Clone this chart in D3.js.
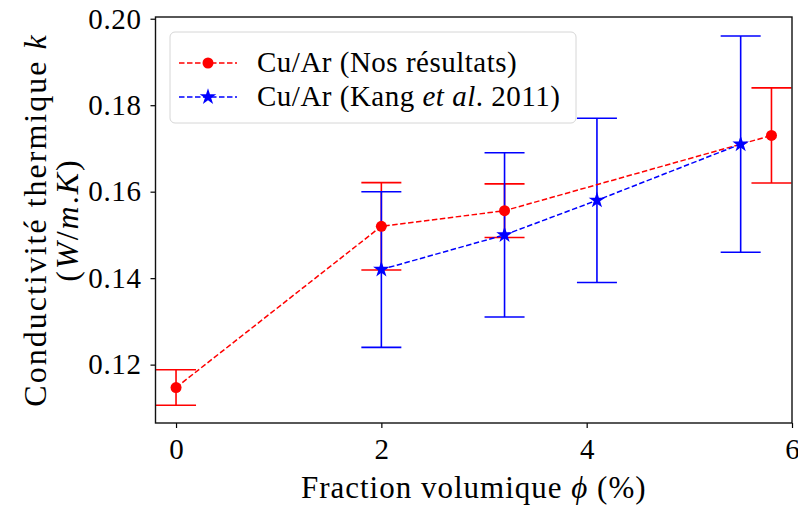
<!DOCTYPE html>
<html>
<head>
<meta charset="utf-8">
<script src="https://cdn.jsdelivr.net/npm/d3@7"></script>
<style>
  body { margin: 0; background: #fff; }
  text { font-family: "Liberation Serif", "DejaVu Serif", serif; fill: #000; }
</style>
</head>
<body>
<div id="chart"></div>
<script>
// data
var ours_x = [0, 2, 3.2, 5.8];
var ours_k = [0.1147, 0.152, 0.1556, 0.173];
var ours_err = [0.0041, 0.0101, 0.0062, 0.011];

var kang_x = [2, 3.2, 4.1, 5.5];
var kang_k = [0.142, 0.150, 0.158, 0.171];
var kang_err = [0.018, 0.019, 0.019, 0.025];

var x_ticks = [0, 2, 4, 6];
var y_ticks = [0.12, 0.14, 0.16, 0.18, 0.20];

var W = 798, H = 506;
var margin = {left: 155.5, right: 6, top: 17, bottom: 83};

var svg = d3.select("#chart").append("svg")
    .attr("width", W)
    .attr("height", H);

var xScale = d3.scaleLinear()
    .domain([-0.2, 6.0])
    .range([margin.left, W - margin.right]);

var yScale = d3.scaleLinear()
    .domain([0.1065, 0.2004])
    .range([H - margin.bottom, margin.top]);

var red = "#ff0000", blue = "#0000ff";
var capHalf = 20;

// clip so caps near the right spine get cut like matplotlib does
svg.append("clipPath").attr("id", "plotclip")
    .append("rect")
    .attr("x", margin.left).attr("y", margin.top)
    .attr("width", W - margin.right - margin.left)
    .attr("height", H - margin.bottom - margin.top);

var plot = svg.append("g").attr("clip-path", "url(#plotclip)");

function zip(xs, ks, es) {
    return xs.map((x, i) => ({x: x, k: ks[i], e: es[i]}));
}
var ours = zip(ours_x, ours_k, ours_err);
var kang = zip(kang_x, kang_k, kang_err);

// error bars (drawn under the data lines)
function errorbars(data, color) {
    var g = plot.append("g").attr("stroke", color).attr("stroke-width", 1.6);
    g.selectAll(".bar").data(data).enter().append("line")
        .attr("x1", d => xScale(d.x)).attr("x2", d => xScale(d.x))
        .attr("y1", d => yScale(d.k - d.e)).attr("y2", d => yScale(d.k + d.e));
    [-1, 1].forEach(function(s) {
        g.selectAll(".cap" + s).data(data).enter().append("line")
            .attr("x1", d => xScale(d.x) - capHalf).attr("x2", d => xScale(d.x) + capHalf)
            .attr("y1", d => yScale(d.k + s * d.e)).attr("y2", d => yScale(d.k + s * d.e));
    });
}
errorbars(ours, red);
errorbars(kang, blue);

var line = d3.line().x(d => xScale(d.x)).y(d => yScale(d.k));

plot.append("path").datum(ours)
    .attr("d", line)
    .attr("fill", "none").attr("stroke", red)
    .attr("stroke-width", 1.5).attr("stroke-dasharray", "5.5,2.5");
plot.selectAll(".dot").data(ours).enter().append("circle")
    .attr("cx", d => xScale(d.x)).attr("cy", d => yScale(d.k))
    .attr("r", 5.5).attr("fill", red);

plot.append("path").datum(kang)
    .attr("d", line)
    .attr("fill", "none").attr("stroke", blue)
    .attr("stroke-width", 1.5).attr("stroke-dasharray", "5.5,2.5");
var star = d3.symbol().type(d3.symbolStar).size(85);
plot.selectAll(".star").data(kang).enter().append("path")
    .attr("d", star)
    .attr("transform", d => "translate(" + xScale(d.x) + "," + yScale(d.k) + ")")
    .attr("fill", blue);

// axes
var xAxis = svg.append("g")
    .attr("transform", "translate(0," + (H - margin.bottom) + ")")
    .call(d3.axisBottom(xScale).tickValues(x_ticks).tickSize(5).tickPadding(10).tickFormat(d3.format("d")));
var yAxis = svg.append("g")
    .attr("transform", "translate(" + margin.left + ",0)")
    .call(d3.axisLeft(yScale).tickValues(y_ticks).tickSize(5).tickPadding(9).tickFormat(d3.format(".2f")));

[xAxis, yAxis].forEach(function(a) {
    a.select(".domain").remove();
    a.selectAll(".tick line").attr("stroke", "#000").attr("stroke-width", 1.2);
    a.selectAll("text").style("font-size", "29px").attr("fill", "#000")
        .style("font-family", "'Liberation Serif', serif");
});
yAxis.selectAll("text").style("letter-spacing", "0.6px");

// frame
svg.append("rect")
    .attr("x", margin.left).attr("y", margin.top)
    .attr("width", W - margin.right - margin.left)
    .attr("height", H - margin.bottom - margin.top)
    .attr("fill", "none").attr("stroke", "#111").attr("stroke-width", 1.4);

// x label
var xl = svg.append("text")
    .attr("x", (xScale.range()[0] + xScale.range()[1]) / 2)
    .attr("y", 498)
    .attr("text-anchor", "middle")
    .style("font-size", "31px")
    .style("letter-spacing", "1px");
xl.append("tspan").text("Fraction volumique ");
xl.append("tspan").style("font-style", "italic").text("ϕ");
xl.append("tspan").text(" (%)");

// y label, two lines
var ymid = (yScale.range()[0] + yScale.range()[1]) / 2;
var yl1 = svg.append("text")
    .attr("transform", "translate(46," + ymid + ") rotate(-90)")
    .attr("text-anchor", "middle")
    .style("font-size", "32px")
    .style("letter-spacing", "2px");
yl1.append("tspan").text("Conductivité thermique ");
yl1.append("tspan").style("font-style", "italic").text("k");

var yl2 = svg.append("text")
    .attr("transform", "translate(78," + ymid + ") rotate(-90)")
    .attr("text-anchor", "middle")
    .style("font-size", "32px")
    .style("letter-spacing", "2px");
yl2.append("tspan").text("(");
yl2.append("tspan").style("font-style", "italic").text("W");
yl2.append("tspan").text("/");
yl2.append("tspan").style("font-style", "italic").text("m");
yl2.append("tspan").text(".");
yl2.append("tspan").style("font-style", "italic").text("K");
yl2.append("tspan").text(")");

// legend
var legend = svg.append("g");
legend.append("rect")
    .attr("x", 170).attr("y", 32).attr("width", 406).attr("height", 91)
    .attr("rx", 5).attr("fill", "#fff").attr("fill-opacity", 0.85)
    .attr("stroke", "#d6d6d6").attr("stroke-width", 1);

var entries = [
    {color: red, mark: "circle", y: 63, parts: [["Cu/Ar (Nos résultats)", false]]},
    {color: blue, mark: "star", y: 97, parts: [["Cu/Ar (Kang ", false], ["et al", true], [". 2011)", false]]}
];
entries.forEach(function(e) {
    legend.append("line")
        .attr("x1", 179).attr("x2", 237).attr("y1", e.y).attr("y2", e.y)
        .attr("stroke", e.color).attr("stroke-width", 1.5).attr("stroke-dasharray", "5.5,2.5");
    if (e.mark === "circle") {
        legend.append("circle").attr("cx", 208).attr("cy", e.y).attr("r", 5.5).attr("fill", e.color);
    } else {
        legend.append("path").attr("d", star)
            .attr("transform", "translate(208," + e.y + ")").attr("fill", e.color);
    }
    var t = legend.append("text")
        .attr("x", 257).attr("y", e.y + 9)
        .style("font-size", "29px")
        .style("letter-spacing", "0.5px");
    e.parts.forEach(function(p) {
        t.append("tspan").style("font-style", p[1] ? "italic" : "normal").text(p[0]);
    });
});
</script>
</body>
</html>
